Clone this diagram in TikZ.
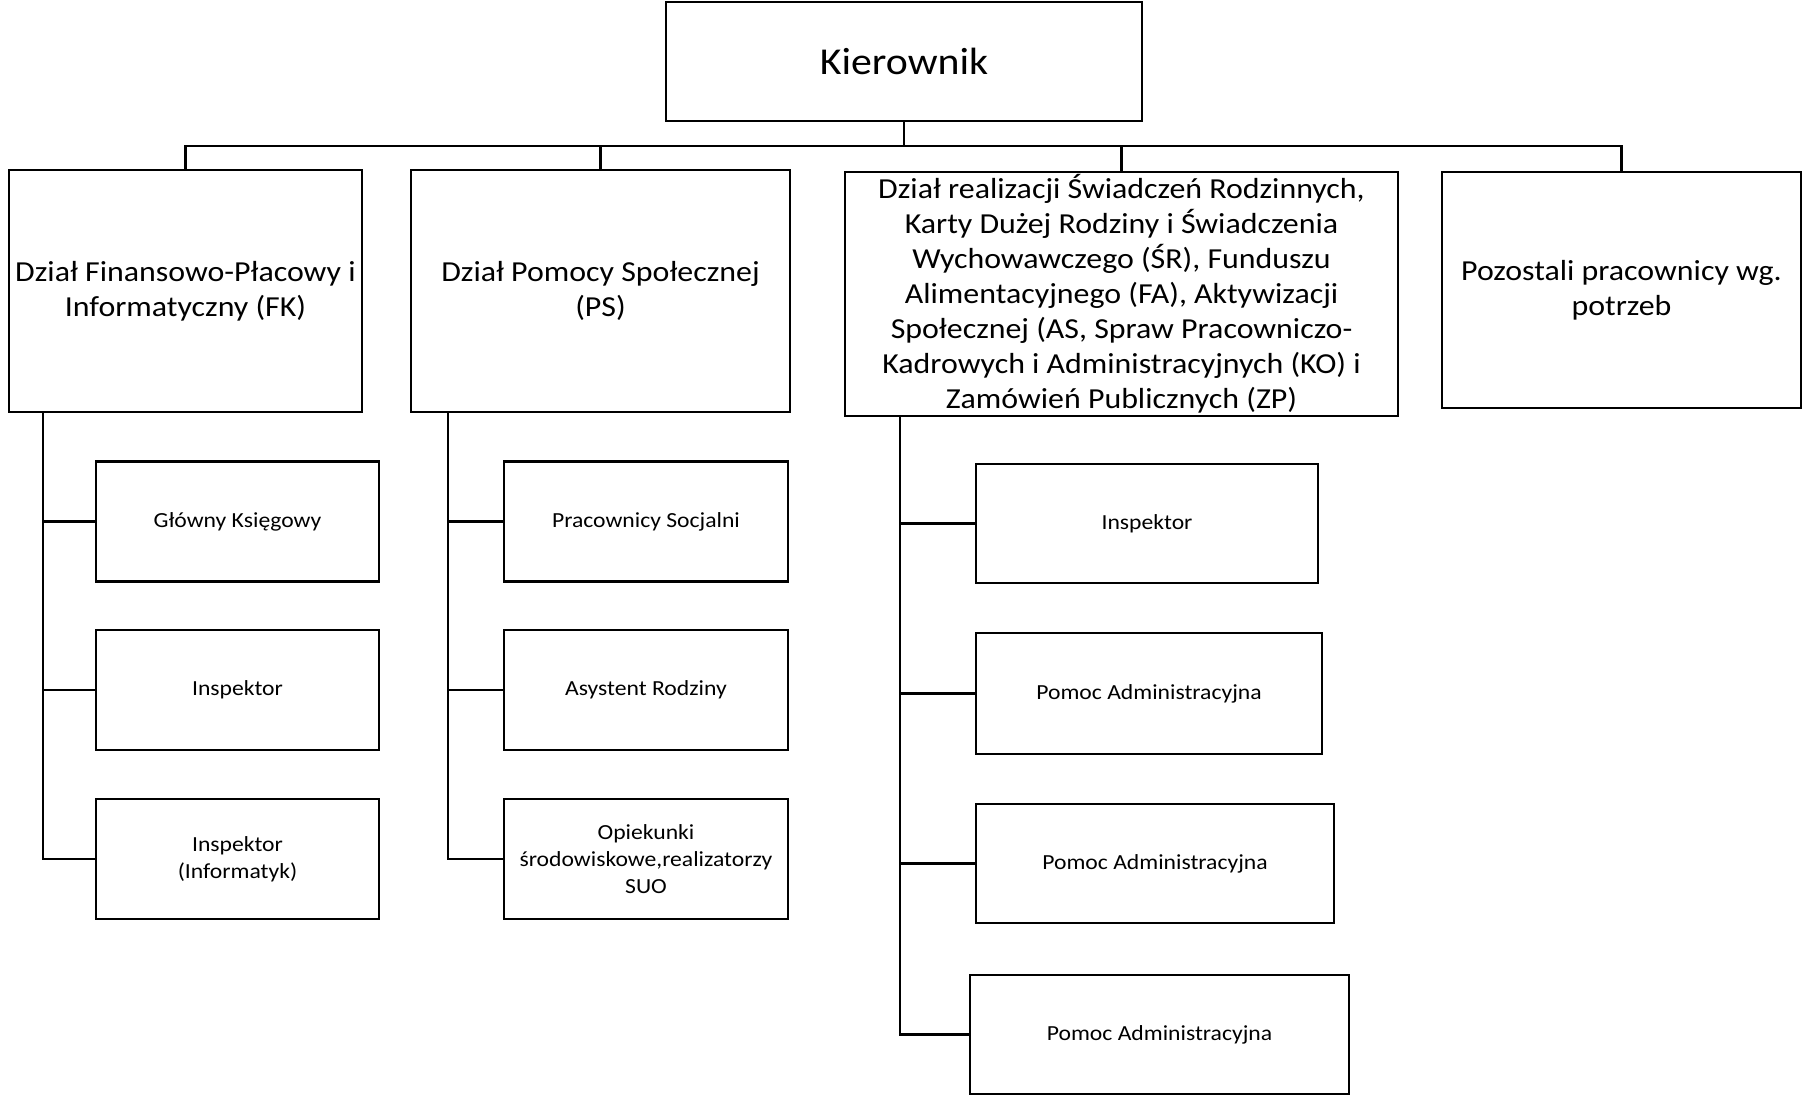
\documentclass[tikz,border=0pt]{standalone}
\usepackage{fontspec}
\setmainfont{Carlito}[FakeStretch=1.1]
\usepackage{tikz}
\usetikzlibrary{positioning,calc}
\tikzset{
  link/.style={draw=black, line width=2.2pt},
  headbox/.style={draw=black, line width=2.6pt, fill=white, align=center,
    inner sep=0pt, minimum width=476pt, minimum height=119pt,
    font=\fontsize{38pt}{46pt}\selectfont},
  deptbox/.style={draw=black, line width=2.4pt, fill=white, align=center,
    inner sep=0pt, minimum height=242pt,
    font=\fontsize{29pt}{35pt}\selectfont},
  unitbox/.style={draw=black, line width=2.4pt, fill=white, align=center,
    inner sep=0pt, minimum height=120pt,
    font=\fontsize{21.5pt}{27pt}\selectfont}
}
\begin{document}
\begin{tikzpicture}[x=1pt,y=-1pt]
    \useasboundingbox (0,0) rectangle (1803,1096);

    \node[headbox] (boss) at (904,61.5) {Kierownik};

    \node[deptbox, minimum width=353pt] (fk) at (185.5,291)
        {Dział Finansowo-Płacowy i\\Informatyczny (FK)};
    \node[deptbox, minimum width=379pt] (ps) at (600.5,291)
        {Dział Pomocy Społecznej\\(PS)};
    \node[deptbox, minimum width=553pt, minimum height=244pt] (sr) at (1121.5,294)
        {Dział realizacji Świadczeń Rodzinnych,\\Karty Dużej Rodziny i Świadczenia\\
         Wychowawczego (ŚR), Funduszu\\Alimentacyjnego (FA), Aktywizacji\\
         Społecznej (AS, Spraw Pracowniczo-\\Kadrowych i Administracyjnych (KO) i\\
         Zamówień Publicznych (ZP)};
    \node[deptbox, minimum width=359pt, minimum height=236pt] (poz) at (1621.5,290)
        {Pozostali pracownicy wg.\\potrzeb};

    \node[unitbox, minimum width=283pt] (fk1) at (237.5,521.5) {Główny Księgowy};
    \node[unitbox, minimum width=283pt] (fk2) at (237.5,690) {Inspektor};
    \node[unitbox, minimum width=283pt] (fk3) at (237.5,859) {Inspektor\\(Informatyk)};

    \node[unitbox, minimum width=284pt] (ps1) at (646,521.5) {Pracownicy Socjalni};
    \node[unitbox, minimum width=284pt] (ps2) at (646,690) {Asystent Rodziny};
    \node[unitbox, minimum width=284pt] (ps3) at (646,859)
        {Opiekunki\\środowiskowe,realizatorzy\\SUO};

    \node[unitbox, minimum width=342pt, minimum height=119pt] (sr1) at (1147,523.5) {Inspektor};
    \node[unitbox, minimum width=346pt, minimum height=121pt] (sr2) at (1149,693.5) {Pomoc Administracyjna};
    \node[unitbox, minimum width=358pt, minimum height=119pt] (sr3) at (1155,863.5) {Pomoc Administracyjna};
    \node[unitbox, minimum width=379pt, minimum height=119pt] (sr4) at (1159.5,1034.5) {Pomoc Administracyjna};

    % top level
    \coordinate (bus) at (904,146);
    \draw[link] (boss.south) -- (bus);
    \foreach \d in {fk,ps,sr,poz}
        \draw[link] (\d.north) |- (bus);

    % department spines
    \coordinate (fkspine) at ($(fk.south west)+(35,0)$);
    \coordinate (psspine) at ($(ps.south west)+(38,0)$);
    \coordinate (srspine) at ($(sr.south west)+(56,0)$);
    \draw[link] (fkspine) |- (fk3.west);
    \draw[link] (psspine) |- (ps3.west);
    \draw[link] (srspine) |- (sr4.west);
    \foreach \c/\s in {fk1/fkspine,fk2/fkspine,ps1/psspine,ps2/psspine,sr1/srspine,sr2/srspine,sr3/srspine}
        \draw[link] (\c.west) -- (\c.west -| \s);
\end{tikzpicture}
\end{document}
